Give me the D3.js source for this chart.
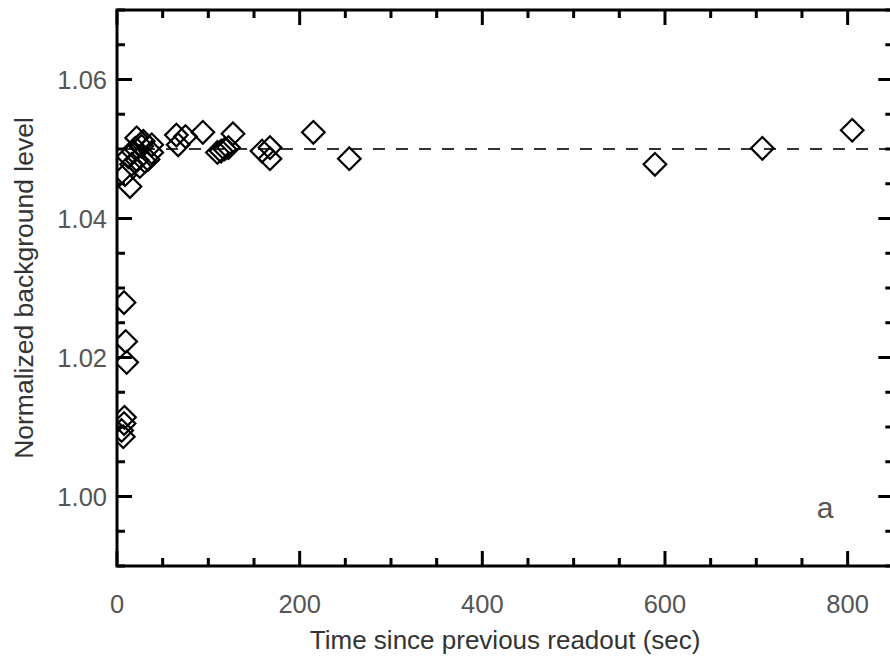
<!DOCTYPE html>
<html>
<head>
<meta charset="utf-8">
<script src="https://cdn.jsdelivr.net/npm/d3@7"></script>
<style>
  html, body { margin: 0; padding: 0; background: #fff; }
  svg { display: block; }
  text { font-family: "Liberation Sans", Arial, Helvetica, sans-serif; }
</style>
</head>
<body>
<svg id="chart" width="890" height="660"></svg>
<script>
// ---- data ----
const timeSec = [5.1, 6.9, 7.7, 8.2, 7.7, 9.5, 10.6,
  8.8, 12.4, 14.2, 16, 18, 21.5, 25, 27, 28.8, 30.7, 34, 38, 38, 22, 20,
  65, 67, 75, 94,
  110, 114, 118, 122, 127,
  158.8, 167.5, 167.5,
  215, 254.4,
  589, 706.6, 805];
const bgLevel = [1.0095, 1.0086, 1.0105, 1.0114, 1.0279, 1.0223, 1.0193,
  1.0463, 1.0489, 1.0446, 1.0478, 1.0496, 1.0516, 1.0475, 1.0504, 1.0511, 1.0482, 1.0485, 1.0495, 1.0506, 1.0484, 1.0501,
  1.0520, 1.0506, 1.0518, 1.0524,
  1.0495, 1.0497, 1.0500, 1.0502, 1.0522,
  1.0497, 1.0502, 1.0486,
  1.0524, 1.0486,
  1.0478, 1.0501, 1.0527];
const refLevel = 1.05;
const xMajorTicks = [0, 200, 400, 600, 800];
const yMajorTicks = [1.00, 1.02, 1.04, 1.06];
const yTickLabels = ["1.00", "1.02", "1.04", "1.06"];
const xTitle = "Time since previous readout (sec)";
const yTitle = "Normalized background level";
const panelLabel = "a";

// ---- layout ----
const svg = d3.select("#chart");
const pL = 117, pR = 893.3, pT = 10, pB = 566;
const x = d3.scaleLinear().domain([0, 850]).range([pL, pR]);
const y = d3.scaleLinear().domain([0.99, 1.07]).range([pB, pT]);

const xMinor = d3.range(0, 851, 50).filter(v => v % 200 !== 0);
const yMinor = d3.range(0, 17).map(i => +(0.99 + i * 0.005).toFixed(3))
  .filter(v => !yMajorTicks.some(m => Math.abs(m - v) < 1e-9));

svg.append("defs").append("clipPath").attr("id", "plotclip")
  .append("rect").attr("x", pL).attr("y", pT).attr("width", pR - pL).attr("height", pB - pT);

// reference dashed line
svg.append("line")
  .attr("x1", x(0)).attr("x2", x(850))
  .attr("y1", y(refLevel)).attr("y2", y(refLevel))
  .attr("stroke", "#333").attr("stroke-width", 2)
  .attr("stroke-dasharray", "12,11")
  .attr("stroke-dashoffset", -3);

// points (diamonds)
const s = 11.3;
svg.append("g").attr("clip-path", "url(#plotclip)")
  .selectAll("path").data(timeSec.map((t, i) => [t, bgLevel[i]]))
  .join("path")
  .attr("d", d => {
    const cx = x(d[0]), cy = y(d[1]);
    return `M${cx},${cy - s}L${cx + s},${cy}L${cx},${cy + s}L${cx - s},${cy}Z`;
  })
  .attr("fill", "none").attr("stroke", "#000").attr("stroke-width", 2.2);

// axes frame and ticks
const axStroke = 3, majLen = 15, minLen = 8;
const frame = svg.append("g").attr("stroke", "#000").attr("stroke-width", axStroke).attr("fill", "none");
frame.append("rect").attr("x", pL).attr("y", pT).attr("width", pR - pL).attr("height", pB - pT);

function xTicks(vals, len) {
  vals.forEach(v => {
    frame.append("line").attr("x1", x(v)).attr("x2", x(v)).attr("y1", pB).attr("y2", pB - len);
    frame.append("line").attr("x1", x(v)).attr("x2", x(v)).attr("y1", pT).attr("y2", pT + len);
  });
}
function yTicks(vals, len) {
  vals.forEach(v => {
    frame.append("line").attr("y1", y(v)).attr("y2", y(v)).attr("x1", pL).attr("x2", pL + len);
    frame.append("line").attr("y1", y(v)).attr("y2", y(v)).attr("x1", pR).attr("x2", pR - len);
  });
}
xTicks(xMajorTicks, majLen);
xTicks(xMinor, minLen);
yTicks(yMajorTicks, majLen);
yTicks(yMinor, minLen);

// tick labels
const fs = 25.5;
svg.append("g").selectAll("text").data(xMajorTicks).join("text")
  .attr("x", d => x(d)).attr("y", 613)
  .attr("text-anchor", "middle").attr("font-size", fs).attr("fill", "#555")
  .text(d => d3.format("d")(d));
svg.append("g").selectAll("text").data(yMajorTicks).join("text")
  .attr("x", 107).attr("y", d => y(d) + 9)
  .attr("text-anchor", "end").attr("font-size", fs).attr("fill", "#555")
  .text((d, i) => yTickLabels[i]);

// titles
svg.append("text").attr("x", (pL + pR) / 2).attr("y", 649)
  .attr("text-anchor", "middle").attr("font-size", 26).attr("fill", "#333")
  .text(xTitle);
svg.append("text")
  .attr("transform", `translate(33,${(pT + pB) / 2}) rotate(-90)`)
  .attr("text-anchor", "middle").attr("font-size", 26.5).attr("fill", "#333")
  .text(yTitle);

// panel label
svg.append("text").attr("x", 825).attr("y", 518)
  .attr("text-anchor", "middle").attr("font-size", 30).attr("fill", "#555")
  .text(panelLabel);
</script>
</body>
</html>
